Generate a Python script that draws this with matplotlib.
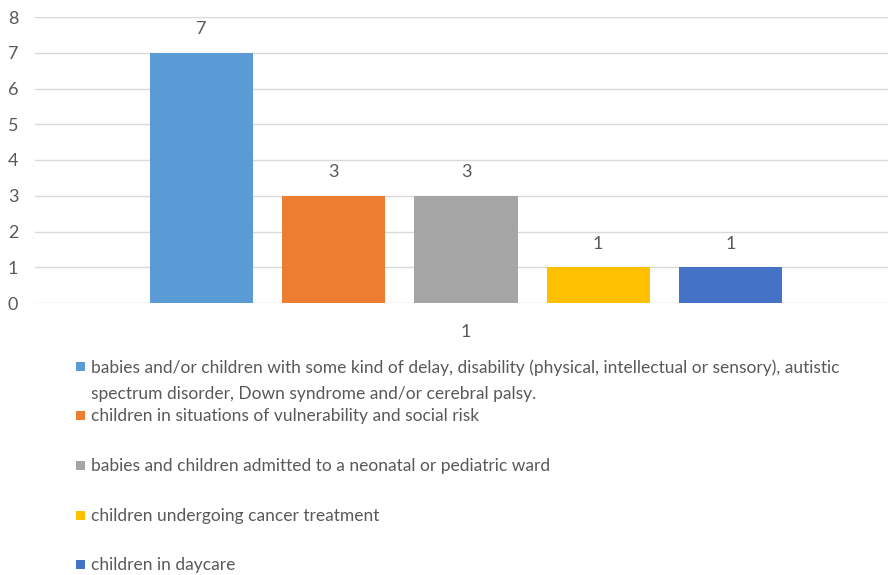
import matplotlib
matplotlib.use("Agg")
import matplotlib.pyplot as plt
from matplotlib.patches import Rectangle

plt.rcParams['font.family'] = ['Lato', 'DejaVu Sans']

# one category, five series
category = "1"
series_names = [
    "babies and/or children with some kind of delay, disability (physical, intellectual or sensory), autistic\nspectrum disorder, Down syndrome and/or cerebral palsy.",
    "children in situations of vulnerability and social risk",
    "babies and children admitted to a neonatal or pediatric ward",
    "children undergoing cancer treatment",
    "children in daycare",
]
counts = [7, 3, 3, 1, 1]
colors = ["#5b9bd5", "#ed7d31", "#a5a5a5", "#ffc000", "#4472c4"]

text_col = "#595959"
W, H = 888, 575

fig = plt.figure(figsize=(W / 100, H / 100), dpi=100)
ax = fig.add_axes([35 / W, 1 - 303 / H, (888 - 35) / W, (303 - 17) / H])

pos = list(range(len(counts)))
bars = ax.bar(pos, counts, width=0.78, color=colors, zorder=2)
for b, v in zip(bars, counts):
    ax.annotate(str(v), (b.get_x() + b.get_width() / 2, v), xytext=(0, 11),
                textcoords="offset points", ha="center", va="bottom",
                fontsize=13, color=text_col)

ax.set_xlim(-1.261, 5.193)
ax.set_ylim(0, 8)
ax.set_yticks(range(0, 9))
ax.yaxis.grid(True, color="#d9d9d9", linewidth=1, zorder=0)
ax.tick_params(axis="y", length=0, pad=12, labelsize=13, labelcolor=text_col)
ax.set_xticks([])
for s in ax.spines.values():
    s.set_visible(False)

# category label under the group
ax.text((pos[0] + pos[-1]) / 2, -0.8, category, ha="center", va="center",
        fontsize=13, color=text_col)

# legend stacked below the plot
legend_y = [366, 415, 465, 515, 564]
for name, c, y in zip(series_names, colors, legend_y):
    fig.patches.append(Rectangle((76 / W, 1 - (y + 5) / H), 9 / W, 9 / H,
                                 transform=fig.transFigure, facecolor=c,
                                 edgecolor="none"))
    fig.text(91 / W, 1 - (y - 7) / H, name, ha="left", va="top",
             fontsize=12.5, color=text_col, linespacing=1.82)

fig.savefig("out.png", dpi=100)
